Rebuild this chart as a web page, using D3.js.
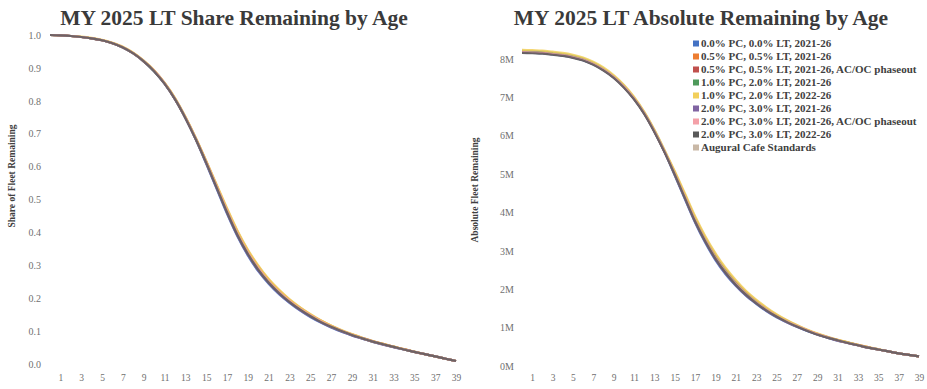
<!DOCTYPE html>
<html><head><meta charset="utf-8">
<script src="https://cdn.jsdelivr.net/npm/d3@7/dist/d3.min.js"></script>
<style>
html,body{margin:0;padding:0;background:#fff;}
svg{display:block;}
text{font-family:"Liberation Serif","Times New Roman",serif;}
</style></head>
<body>
<svg id="c" width="927" height="389"></svg>
<script>
// ---------- DATA ----------
const ages = d3.range(0, 40);               // vehicle age 0..39
const xTickLabels = [1,3,5,7,9,11,13,15,17,19,21,23,25,27,29,31,33,35,37,39];
const shareTicks = [0,0.1,0.2,0.3,0.4,0.5,0.6,0.7,0.8,0.9,1.0];
const absTicks = [0,1,2,3,4,5,6,7,8];      // millions

const seriesNames = [
  "0.0% PC, 0.0% LT, 2021-26",
  "0.5% PC, 0.5% LT, 2021-26",
  "0.5% PC, 0.5% LT, 2021-26, AC/OC phaseout",
  "1.0% PC, 2.0% LT, 2021-26",
  "1.0% PC, 2.0% LT, 2022-26",
  "2.0% PC, 3.0% LT, 2021-26",
  "2.0% PC, 3.0% LT, 2021-26, AC/OC phaseout",
  "2.0% PC, 3.0% LT, 2022-26",
  "Augural Cafe Standards"
];
const seriesColors = ["#4472C4","#ED7D31","#C0504D","#4E9A5B","#F2CF5B","#8064A2","#F4A0A8","#595959","#C9B8A6"];

// Share of fleet remaining by age (left chart)
const share1 = [1.000,0.999,0.997,0.994,0.990,0.984,0.975,0.962,0.944,0.920,0.890,0.852,0.805,0.748,0.683,0.609,0.533,0.457,0.388,0.330,0.282,0.244,0.212,0.186,0.163,0.143,0.126,0.111,0.098,0.087,0.077,0.067,0.059,0.051,0.044,0.037,0.030,0.023,0.016,0.009];
const share2 = [1.000,0.999,0.997,0.994,0.990,0.984,0.975,0.963,0.945,0.921,0.891,0.854,0.807,0.750,0.686,0.616,0.543,0.470,0.402,0.344,0.296,0.256,0.223,0.195,0.171,0.150,0.132,0.116,0.102,0.090,0.079,0.069,0.061,0.053,0.045,0.037,0.030,0.023,0.016,0.009];
const share3 = [1.000,0.999,0.997,0.994,0.990,0.984,0.975,0.963,0.945,0.921,0.891,0.853,0.806,0.749,0.685,0.615,0.541,0.467,0.399,0.341,0.293,0.253,0.221,0.193,0.169,0.149,0.131,0.115,0.101,0.089,0.079,0.069,0.060,0.052,0.045,0.037,0.030,0.023,0.016,0.009];
const share4 = [1.000,0.999,0.997,0.994,0.990,0.984,0.975,0.962,0.944,0.920,0.890,0.853,0.806,0.749,0.684,0.613,0.539,0.464,0.396,0.338,0.290,0.250,0.218,0.191,0.168,0.147,0.129,0.114,0.101,0.089,0.078,0.068,0.060,0.052,0.044,0.037,0.030,0.023,0.016,0.009];
const share5 = [1.000,0.999,0.997,0.995,0.991,0.985,0.976,0.964,0.946,0.922,0.893,0.855,0.809,0.752,0.688,0.618,0.546,0.474,0.406,0.348,0.300,0.259,0.226,0.197,0.173,0.152,0.133,0.117,0.103,0.091,0.080,0.070,0.061,0.053,0.045,0.038,0.030,0.023,0.016,0.009];
const share6 = [1.000,0.999,0.997,0.994,0.990,0.984,0.975,0.962,0.944,0.920,0.890,0.852,0.805,0.748,0.683,0.610,0.535,0.459,0.390,0.332,0.284,0.246,0.214,0.187,0.164,0.144,0.127,0.112,0.099,0.087,0.077,0.068,0.059,0.051,0.044,0.037,0.030,0.023,0.016,0.009];
const share7 = [1.000,0.999,0.997,0.994,0.990,0.984,0.975,0.962,0.944,0.920,0.891,0.853,0.806,0.749,0.684,0.614,0.540,0.466,0.397,0.339,0.291,0.251,0.219,0.192,0.168,0.148,0.130,0.114,0.101,0.089,0.078,0.068,0.060,0.052,0.044,0.037,0.030,0.023,0.016,0.009];
const share8 = [1.000,0.999,0.997,0.994,0.990,0.984,0.975,0.962,0.944,0.920,0.890,0.852,0.805,0.748,0.683,0.612,0.537,0.462,0.393,0.335,0.287,0.248,0.216,0.189,0.166,0.146,0.128,0.113,0.100,0.088,0.078,0.068,0.060,0.052,0.044,0.037,0.030,0.023,0.016,0.009];
const share9 = [1.000,0.999,0.997,0.994,0.990,0.984,0.976,0.963,0.945,0.922,0.892,0.854,0.808,0.751,0.687,0.617,0.544,0.472,0.404,0.346,0.298,0.257,0.224,0.196,0.172,0.151,0.132,0.116,0.102,0.090,0.080,0.070,0.061,0.053,0.045,0.037,0.030,0.023,0.016,0.009];

// Absolute fleet remaining by age, millions (right chart)
const abs1 = [8.17,8.16,8.15,8.12,8.09,8.04,7.97,7.86,7.71,7.52,7.27,6.96,6.58,6.11,5.58,4.97,4.35,3.74,3.21,2.76,2.39,2.09,1.83,1.62,1.43,1.27,1.14,1.02,0.91,0.82,0.74,0.66,0.60,0.54,0.48,0.43,0.38,0.33,0.29,0.25];
const abs2 = [8.19,8.18,8.17,8.14,8.11,8.06,7.99,7.88,7.73,7.54,7.29,6.98,6.59,6.13,5.59,5.04,4.45,3.85,3.33,2.88,2.51,2.19,1.92,1.69,1.49,1.32,1.18,1.05,0.94,0.84,0.75,0.68,0.61,0.55,0.49,0.43,0.38,0.33,0.29,0.25];
const abs3 = [8.18,8.17,8.16,8.13,8.10,8.05,7.98,7.87,7.72,7.53,7.28,6.97,6.59,6.12,5.59,5.02,4.42,3.82,3.30,2.85,2.48,2.17,1.90,1.67,1.48,1.31,1.17,1.04,0.93,0.83,0.75,0.67,0.61,0.54,0.48,0.43,0.38,0.33,0.29,0.25];
const abs4 = [8.21,8.20,8.19,8.16,8.13,8.08,8.01,7.90,7.75,7.55,7.31,6.99,6.61,6.14,5.61,5.03,4.43,3.83,3.31,2.86,2.49,2.17,1.90,1.68,1.48,1.31,1.17,1.04,0.93,0.83,0.75,0.67,0.61,0.54,0.48,0.43,0.38,0.33,0.29,0.25];
const abs5 = [8.24,8.23,8.22,8.19,8.16,8.11,8.04,7.93,7.78,7.58,7.33,7.02,6.63,6.16,5.63,5.08,4.50,3.91,3.39,2.94,2.56,2.24,1.96,1.73,1.53,1.35,1.20,1.07,0.95,0.85,0.76,0.68,0.62,0.55,0.49,0.44,0.38,0.33,0.29,0.25];
const abs6 = [8.17,8.16,8.15,8.12,8.09,8.04,7.97,7.86,7.71,7.52,7.27,6.96,6.58,6.11,5.58,4.98,4.36,3.75,3.23,2.78,2.41,2.10,1.84,1.63,1.44,1.28,1.14,1.02,0.92,0.82,0.74,0.66,0.60,0.54,0.48,0.43,0.38,0.33,0.29,0.25];
const abs7 = [8.18,8.17,8.16,8.13,8.10,8.05,7.98,7.87,7.72,7.53,7.28,6.97,6.59,6.12,5.59,5.01,4.41,3.80,3.28,2.83,2.46,2.15,1.88,1.66,1.47,1.30,1.16,1.04,0.93,0.83,0.75,0.67,0.60,0.54,0.48,0.43,0.38,0.33,0.29,0.25];
const abs8 = [8.16,8.15,8.14,8.11,8.08,8.03,7.96,7.85,7.70,7.51,7.26,6.95,6.57,6.10,5.57,4.99,4.38,3.77,3.25,2.80,2.43,2.12,1.86,1.64,1.45,1.29,1.15,1.03,0.92,0.82,0.74,0.67,0.60,0.54,0.48,0.43,0.38,0.33,0.29,0.25];
const abs9 = [8.20,8.19,8.18,8.15,8.12,8.07,8.00,7.89,7.74,7.55,7.30,6.98,6.60,6.13,5.60,5.06,4.47,3.88,3.36,2.91,2.53,2.21,1.94,1.71,1.51,1.34,1.19,1.06,0.94,0.84,0.76,0.68,0.61,0.55,0.49,0.43,0.38,0.33,0.29,0.25];

const shareSeries = [share1,share2,share3,share4,share5,share6,share7,share8,share9];
const absSeries = [abs1,abs2,abs3,abs4,abs5,abs6,abs7,abs8,abs9];

// ---------- DRAW ----------
const svg = d3.select("#c");
const drawOrder = [8,0,1,2,3,4,5,6,7];

function panel(opts){
  const x = d3.scaleLinear().domain([0,39]).range(opts.xr);
  const y = d3.scaleLinear().domain(opts.yd).range(opts.yr);
  // title
  svg.append("text").attr("x",opts.titleX).attr("y",25).attr("text-anchor","middle")
    .attr("font-size","21.5px").attr("font-weight","bold").attr("fill","#3a3a3a").text(opts.title);
  // y axis
  const ya = svg.append("g").attr("transform",`translate(${opts.yAxisX},0)`)
    .call(d3.axisLeft(y).tickValues(opts.yTicks).tickFormat(opts.fmt).tickSize(0).tickPadding(0));
  ya.select(".domain").remove();
  ya.selectAll("text").attr("font-size","10px").attr("fill","#707070").attr("font-family","Liberation Serif, serif");
  // x axis
  const xa = svg.append("g").attr("transform",`translate(0,374)`)
    .call(d3.axisBottom(x).tickValues(xTickLabels).tickFormat(d3.format("d")).tickSize(0).tickPadding(0));
  xa.select(".domain").remove();
  xa.selectAll("text").attr("font-size","9.5px").attr("fill","#707070").attr("font-family","Liberation Serif, serif");
  // y title
  svg.append("text").attr("transform",`translate(${opts.yTitleX},${opts.yTitleY}) rotate(-90)`)
    .attr("text-anchor","middle").attr("font-size","9.5px").attr("font-weight","bold").attr("fill","#404040")
    .text(opts.yTitle);
  // lines
  const line = d3.line().x((d,i)=>x(ages[i])).y(d=>y(d)).curve(d3.curveMonotoneX);
  drawOrder.forEach(k=>{
    svg.append("path").datum(opts.data[k]).attr("d",line).attr("fill","none")
      .attr("stroke",seriesColors[k]).attr("stroke-width",2.2).attr("stroke-opacity",0.85);
  });
}

panel({title:"MY 2025 LT Share Remaining by Age", titleX:234, xr:[50,456], yd:[0,1], yr:[364,35],
  yTicks:shareTicks, fmt:d3.format(".1f"), yAxisX:41, yTitle:"Share of Fleet Remaining", yTitleX:15, yTitleY:176,
  data:shareSeries});
panel({title:"MY 2025 LT Absolute Remaining by Age", titleX:701, xr:[522,919], yd:[0,8], yr:[366,59],
  yTicks:absTicks, fmt:d=>d+"M", yAxisX:514, yTitle:"Absolute Fleet Remaining", yTitleX:478, yTitleY:190,
  data:absSeries});

// legend
const lg = svg.append("g").attr("transform","translate(693,44)");
seriesNames.forEach((n,i)=>{
  const g = lg.append("g").attr("transform",`translate(0,${i*13})`);
  g.append("rect").attr("x",0).attr("y",-3.5).attr("width",6).attr("height",6).attr("fill",seriesColors[i]);
  g.append("text").attr("x",8).attr("y",3).attr("font-size","11px").attr("font-weight","bold")
    .attr("fill","#404040").text(n);
});
</script>
</body></html>
